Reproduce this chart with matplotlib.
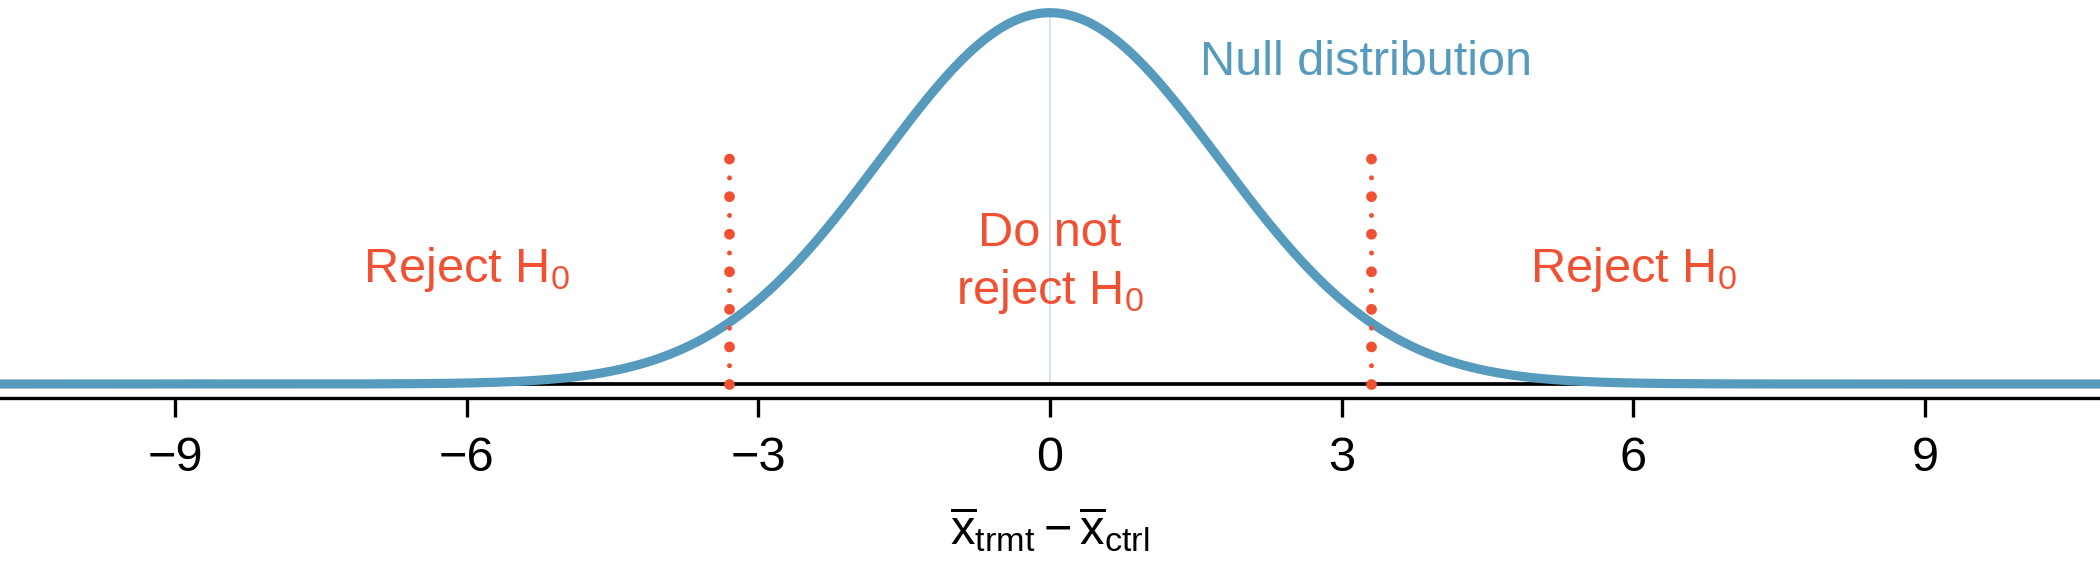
import numpy as np
from matplotlib import pyplot as plt

plt.rcParams['font.family'] = ['Liberation Sans', 'DejaVu Sans']
plt.rcParams['mathtext.fontset'] = 'custom'
plt.rcParams['mathtext.rm'] = 'Liberation Sans'
plt.rcParams['mathtext.it'] = 'Liberation Sans:italic'
plt.rcParams['mathtext.bf'] = 'Liberation Sans:bold'
plt.rcParams['lines.scale_dashes'] = False

blue = '#569BBD'
red = '#F05133'

# null distribution: centred on 0, spread ~1.74
null_mean = 0.0
null_se = 1.74
x_lim = (-10.8, 10.8)
ticks = [-9, -6, -3, 0, 3, 6, 9]
cutoffs = [-3.3, 3.3]
cut_height = 0.607          # top of dotted lines, as share of peak
reject_x = [-6.0, 6.0]
reject_y = 0.275            # baseline of the labels, share of peak
keep_x = 0.0
keep_y = [0.371, 0.215]
null_lab_x = 1.54
null_lab_y = 0.832

xs = np.linspace(-11, 11, 1500)
dens = np.exp(-0.5 * ((xs - null_mean) / null_se) ** 2) / (null_se * np.sqrt(2 * np.pi))
peak = dens.max()

dpi = 300
fig = plt.figure(figsize=(7, 1.89), dpi=dpi)
ax = fig.add_axes([0, (567 - 398) / 567, 1, 398 / 567])
ax.set_xlim(*x_lim)
ax.set_ylim(-14 / 371.3 * peak, peak * (1 + 12.7 / 371.3))

ax.axhline(0, color='black', lw=0.9, zorder=2)
ax.vlines(null_mean, 0, peak, color=blue, alpha=0.25, lw=0.5, zorder=1)
ax.plot(xs, dens, color=blue, lw=2.2, zorder=3, clip_on=False,
        solid_capstyle='butt')

# dotted cut-off lines: big dots with small dots between
fig.canvas.draw()
top = cut_height * peak
for c in cutoffs:
    p0 = ax.transData.transform((c, 0))
    p1 = ax.transData.transform((c, top))
    gap = abs(p1[1] - p0[1]) / 6 * 72 / dpi
    ax.plot([c, c], [0, top * 1.01], color=red, lw=2.6,
            linestyle=(0, (0.001, gap)), dash_capstyle='round', zorder=4)
    ax.plot([c, c], [0, top], color=red, lw=1.2,
            linestyle=(gap / 2, (0.001, gap)), dash_capstyle='round', zorder=4)

fs = 11.7
for rx in reject_x:
    ax.text(rx, reject_y * peak, 'Reject H$_0$', color=red, fontsize=fs,
            ha='center', va='baseline')
ax.text(keep_x, keep_y[0] * peak, 'Do not', color=red, fontsize=fs,
        ha='center', va='baseline')
ax.text(keep_x, keep_y[1] * peak, 'reject H$_0$', color=red, fontsize=fs,
        ha='center', va='baseline')
ax.text(null_lab_x, null_lab_y * peak, 'Null distribution', color=blue,
        fontsize=fs, ha='left', va='baseline')

for s in ['top', 'left', 'right']:
    ax.spines[s].set_visible(False)
ax.spines['bottom'].set_linewidth(0.8)
ax.set_yticks([])
ax.set_xticks(ticks)
ax.tick_params(axis='x', length=4.6, width=0.8, pad=4.5, labelsize=fs)

fig.text(0.5, 23 / 567,
         r'$\overline{\mathrm{x}}_{\mathrm{trmt}} - \overline{\mathrm{x}}_{\mathrm{ctrl}}$',
         fontsize=fs, ha='center', va='baseline')

plt.savefig('out.png', dpi=dpi)
